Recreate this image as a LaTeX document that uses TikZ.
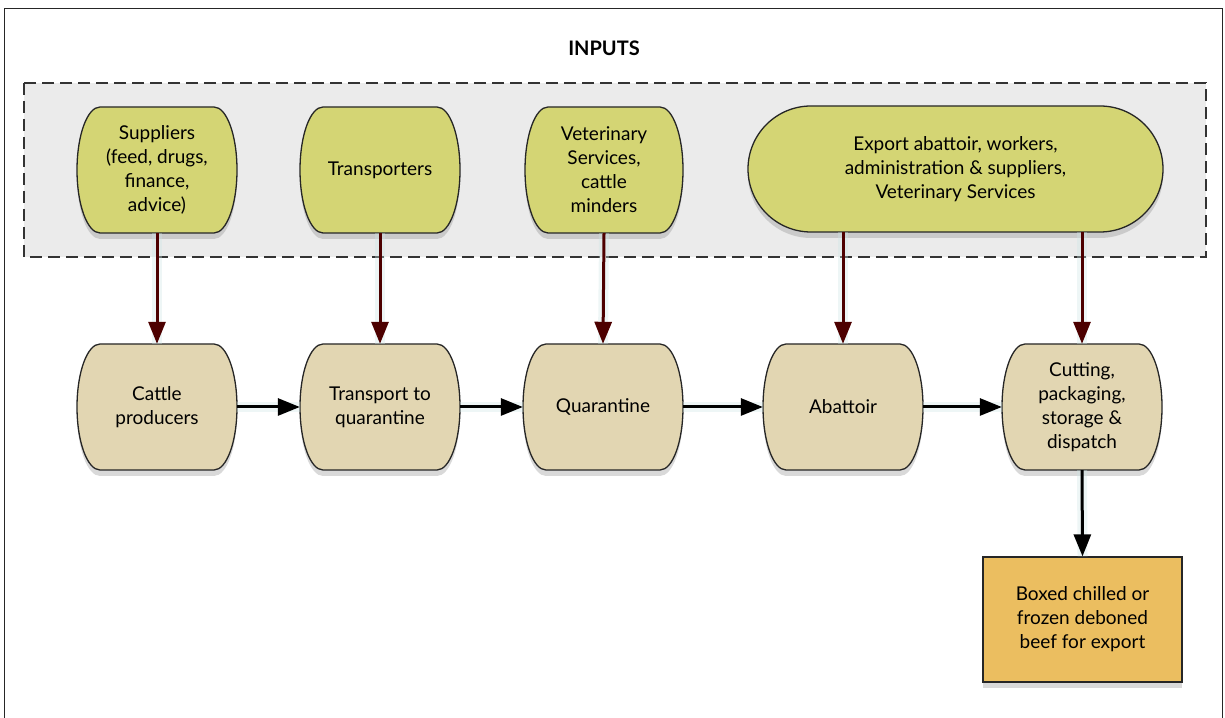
\documentclass[tikz,border=0pt]{standalone}
\usepackage{fontspec}
\setmainfont{Lato}
\usetikzlibrary{arrows.meta,shadows,calc}
\definecolor{topfill}{RGB}{212,213,116}
\definecolor{botfill}{RGB}{226,214,178}
\definecolor{outfill}{RGB}{235,190,96}
\definecolor{inbox}{RGB}{235,235,235}
\definecolor{brownarr}{RGB}{77,0,0}
\definecolor{glowc}{RGB}{205,230,230}
\tikzset{
  txt/.style={align=center, inner sep=0pt, font=\fontsize{19}{24}\selectfont},
  shapeline/.style={draw=black!85, line width=1.3pt,
     drop shadow={shadow xshift=0pt, shadow yshift=-6pt, opacity=0.3}},
  inarrow/.style={draw=brownarr, line width=3pt, -{Triangle[length=22pt,width=17pt]},
     preaction={draw=glowc, line width=10pt, opacity=0.35, -}},
  flowarrow/.style={draw=black, line width=3pt, -{Triangle[length=22pt,width=17pt]},
     preaction={draw=glowc, line width=10pt, opacity=0.35, -}},
}
% #1 name, #2 cx, #3 cy, #4 w, #5 h, #6 inset, #7 fill, #8 text
\newcommand\bnode[8]{%
  \path[shapeline, fill=#7]
   ({#2-#4/2+#6},{#3+#5/2}) -- ({#2+#4/2-#6},{#3+#5/2})
   .. controls ({#2+#4/2-#6+0.552*#6},{#3+#5/2}) and ({#2+#4/2},{#3+0.552*#5/2}) .. ({#2+#4/2},{#3})
   .. controls ({#2+#4/2},{#3-0.552*#5/2}) and ({#2+#4/2-#6+0.552*#6},{#3-#5/2}) .. ({#2+#4/2-#6},{#3-#5/2})
   -- ({#2-#4/2+#6},{#3-#5/2})
   .. controls ({#2-#4/2+#6-0.552*#6},{#3-#5/2}) and ({#2-#4/2},{#3-0.552*#5/2}) .. ({#2-#4/2},{#3})
   .. controls ({#2-#4/2},{#3+0.552*#5/2}) and ({#2-#4/2+#6-0.552*#6},{#3+#5/2}) .. cycle;
  \node[txt, minimum width=#4, minimum height=#5] (#1) at (#2,#3) {#8};
}
\begin{document}
\begin{tikzpicture}[x=1pt,y=1pt]
\useasboundingbox (0,0) rectangle (1225,717);
\clip (0,0) rectangle (1225,717);
\draw[line width=1pt, black!85] (4,708) rectangle (1222,-10);
\node[font=\fontsize{20}{22}\selectfont\bfseries] (inputs) at (604,669) {INPUTS};
\draw[fill=inbox, draw=black!80, line width=1.3pt, dash pattern=on 12pt off 6pt] (24,634) rectangle (1206,460);

\bnode{sup}{157}{547}{160}{126}{23}{topfill}{Suppliers\\(feed, drugs,\\finance,\\advice)}
\bnode{trs}{380}{547}{160}{126}{23}{topfill}{Transporters}
\bnode{vet}{604}{547}{158}{126}{23}{topfill}{Veterinary\\Services,\\cattle\\minders}
\bnode{exp}{955.5}{548}{415}{126}{63}{topfill}{Export abattoir, workers,\\administration \& suppliers,\\Veterinary Services}

\bnode{cat}{157}{310}{160}{126}{23}{botfill}{Cattle\\producers}
\bnode{tq}{380}{310}{160}{126}{23}{botfill}{Transport to\\quarantine}
\bnode{qua}{603}{310}{160}{126}{23}{botfill}{Quarantine}
\bnode{aba}{843}{310}{160}{126}{23}{botfill}{Abattoir}
\bnode{cut}{1082}{310}{160}{126}{23}{botfill}{Cutting,\\packaging,\\storage \&\\dispatch}

\node[txt, draw=black!85, line width=1.3pt, fill=outfill, minimum width=199, minimum height=125,
  drop shadow={shadow xshift=0pt, shadow yshift=-6pt, opacity=0.3}] (box) at (1082.5,97.5)
  {Boxed chilled or\\frozen deboned\\beef for export};

\draw[inarrow] (sup.south) -- (cat.north);
\draw[inarrow] (trs.south) -- (tq.north);
\draw[inarrow] (vet.south) -- (qua.north);
\draw[inarrow] (aba.north |- exp.south) -- (aba.north);
\draw[inarrow] (cut.north |- exp.south) -- (cut.north);

\draw[flowarrow] (cat.east) -- (tq.west);
\draw[flowarrow] (tq.east) -- (qua.west);
\draw[flowarrow] (qua.east) -- (aba.west);
\draw[flowarrow] (aba.east) -- (cut.west);
\draw[flowarrow] (cut.south) -- (box.north);
\end{tikzpicture}
\end{document}
